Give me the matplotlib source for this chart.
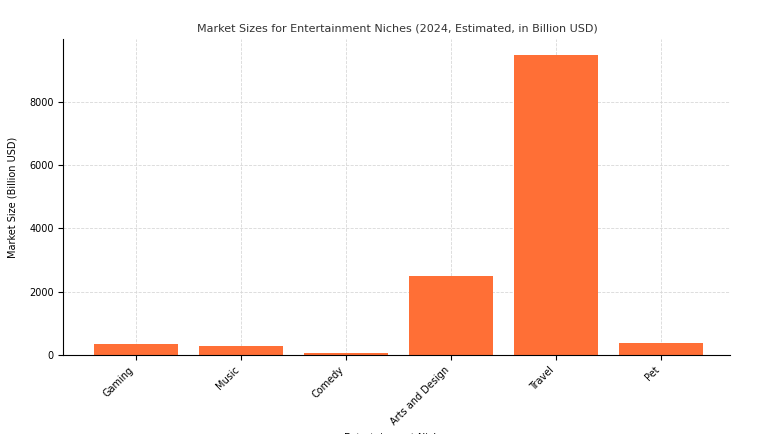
import matplotlib
matplotlib.use("Agg")
import matplotlib.pyplot as plt

niches = ["Gaming", "Music", "Comedy", "Arts and Design", "Travel", "Pet"]
sizes = [350, 280, 60, 2500, 9500, 370]

fig = plt.figure(figsize=(7.73, 4.34), dpi=100)
ax = fig.add_axes([0.082, 0.182, 0.863, 0.727])
ax.bar(niches, sizes, color="#FF6F36", zorder=2)
ax.set_xlim(-0.69, 5.66)
ax.set_ylim(0, 9975)
ax.set_yticks([0, 2000, 4000, 6000, 8000])
ax.grid(True, linestyle="--", linewidth=0.6, color="#d8d8d8", zorder=0)
ax.spines["top"].set_visible(False)
ax.spines["right"].set_visible(False)
ax.tick_params(labelsize=7)
plt.setp(ax.get_xticklabels(), rotation=45, ha="right")
ax.set_title("Market Sizes for Entertainment Niches (2024, Estimated, in Billion USD)", fontsize=8, color="#333333")
ax.set_xlabel("Entertainment Niches", fontsize=7)
ax.set_ylabel("Market Size (Billion USD)", fontsize=7, labelpad=8)
fig.savefig("out.png", dpi=100)
